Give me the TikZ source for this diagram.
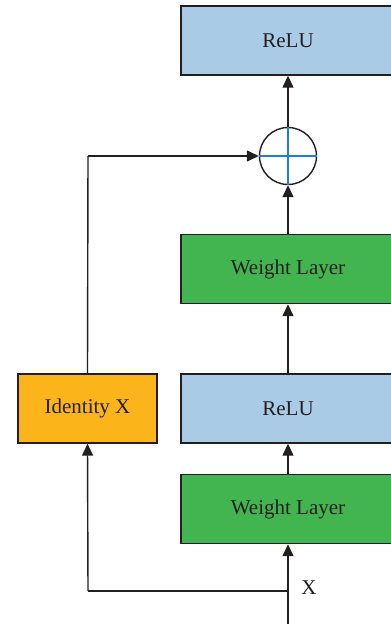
\documentclass[tikz,border=0pt]{standalone}
\usepackage{fontspec}
\setmainfont{Liberation Serif}
\usetikzlibrary{arrows.meta}
\definecolor{reluc}{HTML}{A9CBE6}
\definecolor{weightc}{HTML}{43B550}
\definecolor{identc}{HTML}{FBB41A}
\definecolor{crossc}{HTML}{1E7FD8}
\definecolor{txt}{HTML}{231F20}
\begin{document}
\begin{tikzpicture}[x=1pt,y=-1pt,
  box/.style={draw=txt,line width=1.4pt,minimum width=214pt,minimum height=69pt,inner sep=0pt,font=\fontsize{21}{24}\selectfont,text=txt},
  idbox/.style={box,minimum width=139pt},
  conn/.style={draw=txt,line width=1.4pt,-{Triangle[length=12pt,width=11pt]}},
  plain/.style={draw=txt,line width=1.4pt}]
\useasboundingbox (0,0) rectangle (391,624);
\node[box,fill=reluc] (relu2) at (288,40.5) {ReLU};
\node[draw=txt,line width=1.4pt,circle,minimum size=57pt,inner sep=0pt] (sum) at (288,156) {};
\draw[crossc,line width=1.2pt] (sum.west) -- (sum.east) (sum.north) -- (sum.south);
\node[box,fill=weightc] (w2) at (288,269) {Weight Layer};
\node[box,fill=reluc] (relu1) at (288,408.5) {ReLU};
\node[box,fill=weightc] (w1) at (288,509) {Weight Layer};
\node[idbox,fill=identc] (id) at (87.5,408.5) {Identity X};
\coordinate (bot) at (288,624);
\coordinate (split) at (288,591);
\coordinate (corner) at (88,591);
\coordinate (topcorner) at (88,156);
\node[font=\fontsize{21}{24}\selectfont,text=txt] (xlab) at (309,588) {X};
\draw[conn] (bot) -- (w1.south);
\draw[plain] (split) -- (corner);
\draw[conn] (corner) -- (id.south);
\draw[conn] (w1.north) -- (relu1.south);
\draw[conn] (relu1.north) -- (w2.south);
\draw[conn] (w2.north) -- (sum.south);
\draw[conn] (sum.north) -- (relu2.south);
\draw[plain] (id.north) -- (topcorner);
\draw[conn] (topcorner) -- (sum.west);
\end{tikzpicture}
\end{document}
